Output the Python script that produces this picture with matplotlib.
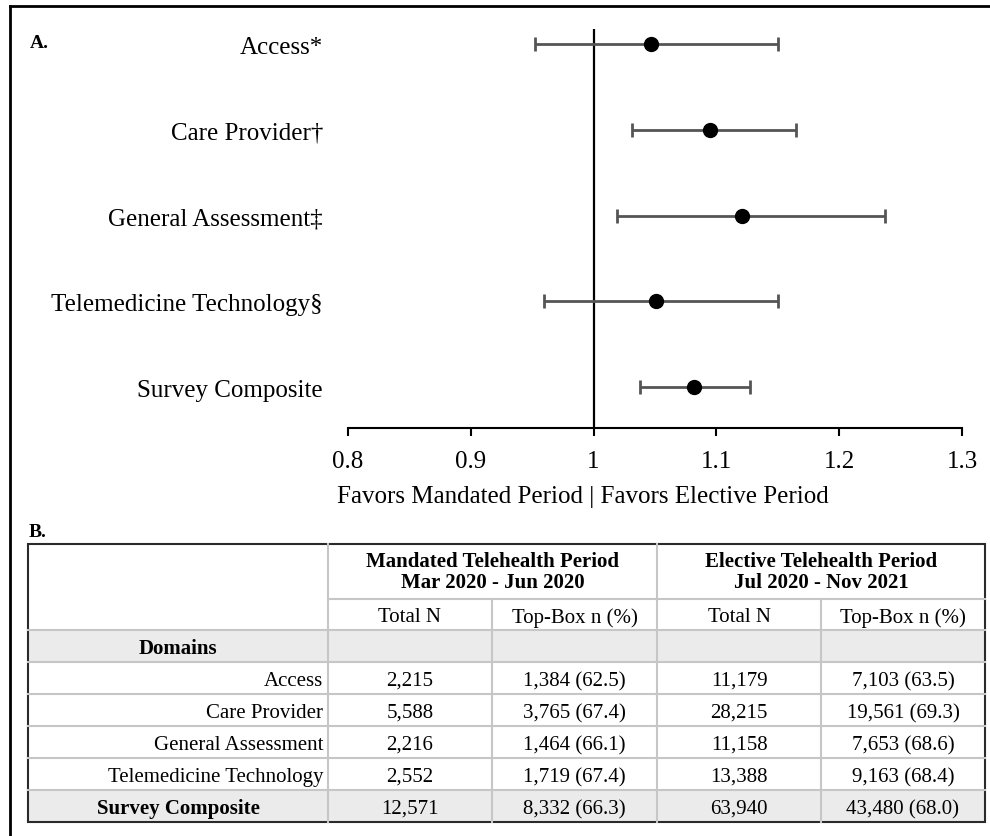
import matplotlib
matplotlib.use("Agg")
import matplotlib.pyplot as plt
from matplotlib.patches import Rectangle
from matplotlib.lines import Line2D

plt.rcParams['font.family'] = ['Liberation Serif', 'DejaVu Serif']

# forest plot data (odds ratio, 95% CI)
domains = ['Access*', 'Care Provider\u2020', 'General Assessment\u2021',
           'Telemedicine Technology\u00a7', 'Survey Composite']
odds = [1.047, 1.095, 1.121, 1.051, 1.082]
ci_lo = [0.952, 1.031, 1.019, 0.960, 1.038]
ci_hi = [1.150, 1.165, 1.237, 1.150, 1.127]
xticks = [0.8, 0.9, 1.0, 1.1, 1.2, 1.3]
xticklabels = ['0.8', '0.9', '1', '1.1', '1.2', '1.3']

# table data
period_heads = ['Mandated Telehealth Period\nMar 2020 - Jun 2020',
                'Elective Telehealth Period\nJul 2020 - Nov 2021']
sub_heads = ['Total N', 'Top-Box n (%)', 'Total N', 'Top-Box n (%)']
row_names = ['Access', 'Care Provider', 'General Assessment',
             'Telemedicine Technology', 'Survey Composite']
mand_n = ['2,215', '5,588', '2,216', '2,552', '12,571']
mand_top = ['1,384 (62.5)', '3,765 (67.4)', '1,464 (66.1)', '1,719 (67.4)', '8,332 (66.3)']
elec_n = ['11,179', '28,215', '11,158', '13,388', '63,940']
elec_top = ['7,103 (63.5)', '19,561 (69.3)', '7,653 (68.6)', '9,163 (68.4)', '43,480 (68.0)']

W, H = 990, 837
fig = plt.figure(figsize=(W / 100, H / 100), dpi=100)

def fx(px):
    return px / W

def fy(py):
    return 1 - py / H

# ---- panel A: forest plot ----
ax = fig.add_axes([fx(348), fy(429), fx(962) - fx(348), fy(30) - fy(429)])
ypos = list(range(len(domains) - 1, -1, -1))
err = [[o - l for o, l in zip(odds, ci_lo)], [h - o for o, h in zip(odds, ci_hi)]]
ax.errorbar(odds, ypos, xerr=err, fmt='o', color='black', ms=10,
            ecolor='#555555', elinewidth=2, capsize=5, capthick=2, zorder=3)
ax.axvline(1.0, color='black', lw=1.6, zorder=2)
ax.set_xlim(0.8, 1.3)
ax.set_ylim(-0.478, 4.175)
for s in ['top', 'right', 'left']:
    ax.spines[s].set_visible(False)
ax.spines['bottom'].set_linewidth(1.5)
ax.set_xticks(xticks)
ax.set_xticklabels(xticklabels, fontsize=18)
ax.tick_params(axis='x', direction='out', length=6, width=1.5, pad=10)
ax.set_yticks(ypos)
ax.set_yticklabels(domains, fontsize=18)
ax.tick_params(axis='y', length=0, pad=18)
ax.set_xlabel('Favors Mandated Period | Favors Elective Period', fontsize=18, labelpad=9)
ax.xaxis.label.set_x(0.383)

fig.text(fx(30), fy(43), 'A.', fontsize=14, fontweight='bold', va='center', ha='left')
fig.text(fx(29), fy(533), 'B.', fontsize=14, fontweight='bold', va='center', ha='left')

# ---- panel B: table ----
tb = fig.add_axes([0, 0, 1, 1])
tb.set_xlim(0, W)
tb.set_ylim(H, 0)
tb.axis('off')

cols = [28, 328, 492, 657, 821, 985]
rows = [545, 600, 631, 663, 695, 727, 759, 791, 823]
grid = '#c6c6c6'
shade = '#ebebeb'

tb.add_patch(Rectangle((cols[0], rows[2]), cols[-1] - cols[0], rows[3] - rows[2],
                       color=shade, lw=0))
tb.add_patch(Rectangle((cols[0], rows[7]), cols[-1] - cols[0], rows[8] - rows[7],
                       color=shade, lw=0))

# horizontal lines
tb.plot([cols[1], cols[-1]], [rows[1], rows[1]], color=grid, lw=1.5)
for r in rows[2:8]:
    tb.plot([cols[0], cols[-1]], [r, r], color=grid, lw=1.5)
# vertical lines
tb.plot([cols[1], cols[1]], [rows[0], rows[-1]], color=grid, lw=1.5)
tb.plot([cols[3], cols[3]], [rows[0], rows[-1]], color=grid, lw=1.5)
for c in [cols[2], cols[4]]:
    tb.plot([c, c], [rows[1], rows[-1]], color=grid, lw=1.5)
tb.add_patch(Rectangle((cols[0], rows[0]), cols[-1] - cols[0], rows[-1] - rows[0],
                       fill=False, ec='#2a2a2a', lw=1.5))

fs = 15
for i, h in enumerate(period_heads):
    xc = (cols[1 + 2 * i] + cols[3 + 2 * i]) / 2
    tb.text(xc, (rows[0] + rows[1]) / 2, h, ha='center', va='center',
            fontsize=fs, fontweight='bold', linespacing=1.05)
for j, h in enumerate(sub_heads):
    xc = (cols[1 + j] + cols[2 + j]) / 2
    tb.text(xc, (rows[1] + rows[2]) / 2, h, ha='center', va='center_baseline', fontsize=fs)
tb.text((cols[0] + cols[1]) / 2, (rows[2] + rows[3]) / 2, 'Domains', ha='center',
        va='center_baseline', fontsize=fs, fontweight='bold')

for k, name in enumerate(row_names):
    yc = (rows[3 + k] + rows[4 + k]) / 2
    if k == len(row_names) - 1:
        tb.text((cols[0] + cols[1]) / 2, yc, name, ha='center', va='center_baseline',
                fontsize=fs, fontweight='bold')
    else:
        tb.text(cols[1] - 5, yc, name, ha='right', va='center_baseline', fontsize=fs)
    vals = [mand_n[k], mand_top[k], elec_n[k], elec_top[k]]
    for j, v in enumerate(vals):
        tb.text((cols[1 + j] + cols[2 + j]) / 2, yc, v, ha='center',
                va='center_baseline', fontsize=fs)

# outer frame (left and top)
fig.add_artist(Line2D([fx(10), fx(10)], [fy(7), 0], color='black', lw=2))
fig.add_artist(Line2D([fx(10), 1], [fy(7), fy(7)], color='black', lw=2))

fig.savefig('out.png', dpi=100)
